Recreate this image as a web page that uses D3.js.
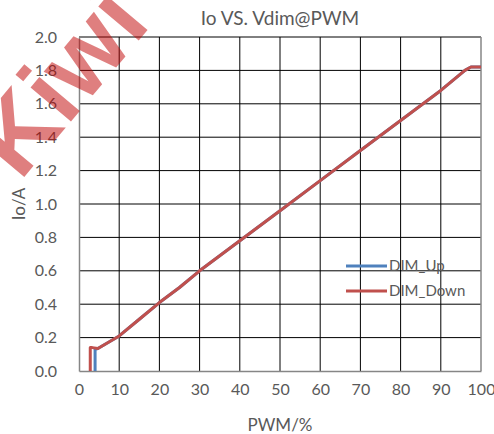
<!DOCTYPE html>
<html>
<head>
<meta charset="utf-8">
<script src="https://cdn.jsdelivr.net/npm/d3@7"></script>
<style>
  body { margin: 0; background: #fff; }
  text { font-family: Lato, "Open Sans", sans-serif; }
</style>
</head>
<body>
<div id="chart"></div>
<script>
// Chart values.
const pwmUp = [4.0, 4.0, 4.7, 10, 15, 20, 25, 30, 40, 50, 60, 70, 80, 90, 96, 97.5, 100];
const ioUp = [0, 0.13, 0.135, 0.21, 0.31, 0.41, 0.5, 0.6, 0.78, 0.96, 1.14, 1.32, 1.5, 1.68, 1.8, 1.82, 1.82];
const pwmDown = [2.8, 2.8, 3.3, 4.7, 10, 15, 20, 25, 30, 40, 50, 60, 70, 80, 90, 96, 97.5, 100];
const ioDown = [0, 0.14, 0.14, 0.135, 0.21, 0.31, 0.41, 0.5, 0.6, 0.78, 0.96, 1.14, 1.32, 1.5, 1.68, 1.8, 1.82, 1.82];
const xTicks = [0, 10, 20, 30, 40, 50, 60, 70, 80, 90, 100];
const yTicks = [0, 0.2, 0.4, 0.6, 0.8, 1.0, 1.2, 1.4, 1.6, 1.8, 2.0];
const seriesNames = ['DIM_Up', 'DIM_Down'];
const seriesColors = ['#4F81BD', '#C0504D'];

const width = 494;
const height = 434;
const plot = { left: 79, right: 481, top: 37, bottom: 371 };

const svg = d3.select('#chart')
  .append('svg')
  .attr('width', width)
  .attr('height', height);

const xScale = d3.scaleLinear().domain([0, 100]).range([plot.left, plot.right]);
const yScale = d3.scaleLinear().domain([0, 2]).range([plot.bottom, plot.top]);

// Grid lines.
svg.append('g')
  .selectAll('line.vgrid')
  .data(xTicks.slice(1, -1))
  .enter()
  .append('line')
  .attr('x1', (d) => xScale(d))
  .attr('x2', (d) => xScale(d))
  .attr('y1', plot.top)
  .attr('y2', plot.bottom)
  .attr('stroke', '#000')
  .attr('stroke-width', 1);

svg.append('g')
  .selectAll('line.hgrid')
  .data(yTicks.slice(1))
  .enter()
  .append('line')
  .attr('x1', plot.left)
  .attr('x2', plot.right)
  .attr('y1', (d) => yScale(d))
  .attr('y2', (d) => yScale(d))
  .attr('stroke', '#000')
  .attr('stroke-width', 1);

// Axes.
const xAxis = d3.axisBottom(xScale).tickValues(xTicks).tickSize(0).tickPadding(13)
  .tickFormat(d3.format('d'));
const yAxis = d3.axisLeft(yScale).tickValues(yTicks).tickSize(0).tickPadding(22)
  .tickFormat(d3.format('.1f'));

const gx = svg.append('g')
  .attr('transform', `translate(0, ${plot.bottom})`)
  .call(xAxis);
const gy = svg.append('g')
  .attr('transform', `translate(${plot.left}, 0)`)
  .call(yAxis);

[gx, gy].forEach((g) => {
  g.select('.domain').attr('stroke', '#868686').attr('stroke-width', 1.5);
  g.selectAll('text').attr('fill', '#595959').style('font-size', '16px')
    .style('font-family', 'Lato, sans-serif');
});

// Right border.
svg.append('line')
  .attr('x1', plot.right).attr('x2', plot.right)
  .attr('y1', plot.top).attr('y2', plot.bottom)
  .attr('stroke', '#868686').attr('stroke-width', 1.5);

// Series lines.
const line = d3.line()
  .x((d) => xScale(d[0]))
  .y((d) => yScale(d[1]));

const series = [
  pwmUp.map((x, i) => [x, ioUp[i]]),
  pwmDown.map((x, i) => [x, ioDown[i]])
];

series.forEach((pts, i) => {
  svg.append('path')
    .datum(pts)
    .attr('fill', 'none')
    .attr('stroke', seriesColors[i])
    .attr('stroke-width', 3)
    .attr('stroke-linejoin', 'round')
    .attr('d', line);
});

// Legend.
const legend = svg.append('g').attr('transform', 'translate(346, 266)');
seriesNames.forEach((name, i) => {
  legend.append('line')
    .attr('x1', 0).attr('x2', 41)
    .attr('y1', i * 25).attr('y2', i * 25)
    .attr('stroke', seriesColors[i])
    .attr('stroke-width', 3);
  legend.append('text')
    .attr('x', 43)
    .attr('y', i * 25 + 5)
    .attr('fill', '#595959')
    .style('font-size', '15px')
    .text(name);
});

// Title and axis labels.
svg.append('text')
  .attr('x', (plot.left + plot.right) / 2)
  .attr('y', 25)
  .attr('text-anchor', 'middle')
  .attr('fill', '#595959')
  .style('font-size', '19px')
  .text('Io VS. Vdim@PWM');

svg.append('text')
  .attr('x', (plot.left + plot.right) / 2)
  .attr('y', 431)
  .attr('text-anchor', 'middle')
  .attr('fill', '#595959')
  .style('font-size', '17px')
  .text('PWM/%');

svg.append('text')
  .attr('transform', 'rotate(-90)')
  .attr('x', -204)
  .attr('y', 25)
  .attr('text-anchor', 'middle')
  .attr('fill', '#595959')
  .style('font-size', '17px')
  .text('Io/A');

// Watermark.
svg.append('text')
  .attr('transform', 'translate(20, 182) rotate(-50)')
  .attr('fill', '#c00000')
  .attr('fill-opacity', 0.5)
  .style('font-family', '"Liberation Sans", sans-serif')
  .style('font-weight', 'bold')
  .style('font-size', '100px')
  .text('Kiwi');
</script>
</body>
</html>
